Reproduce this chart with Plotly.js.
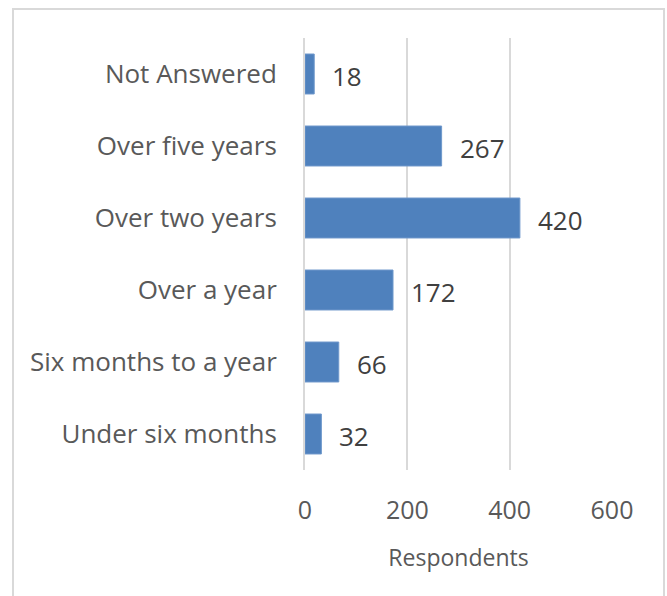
<!DOCTYPE html>
<html>
<head>
<meta charset="utf-8">
<script src="https://cdn.plot.ly/plotly-3.0.1.min.js"></script>
<style>
  html, body { margin: 0; padding: 0; background: #fff; }
  #wrap { position: relative; width: 667px; height: 596px; }
  #chart { width: 667px; height: 596px; }
  #frame { position: absolute; left: 12px; top: 8px; width: 653px; height: 600px;
           border: 2px solid #d9d9d9; box-sizing: border-box; pointer-events: none; }
</style>
</head>
<body>
<div id="wrap">
  <div id="chart"></div>
  <div id="frame"></div>
</div>
<script>
const categories = ["Under six months", "Six months to a year", "Over a year", "Over two years", "Over five years", "Not Answered"];
const respondents = [32, 66, 172, 420, 267, 18];
const xTickValues = [0, 200, 400, 600];
const xAxisTitle = "Respondents";

const FONT = "Open Sans, Liberation Sans, sans-serif";

const trace = {
  type: "bar",
  orientation: "h",
  x: respondents,
  y: categories,
  marker: { color: "#4F81BD", line: { color: "#6F98CB", width: 1 } },
  hoverinfo: "x+y"
};

const annotations = categories.map((c, i) => ({
  x: respondents[i],
  y: c,
  xref: "x",
  yref: "y",
  text: String(respondents[i]),
  showarrow: false,
  xanchor: "left",
  yanchor: "middle",
  xshift: 16,
  yshift: -2,
  font: { family: FONT, size: 26, color: "#404040" }
}));

const layout = {
  width: 667,
  height: 596,
  margin: { l: 305, r: 55, t: 38, b: 126, pad: 0 },
  paper_bgcolor: "#ffffff",
  plot_bgcolor: "#ffffff",
  showlegend: false,
  bargap: 0.445,
  font: { family: FONT, color: "#595959" },
  xaxis: {
    range: [0, 600],
    tickvals: xTickValues,
    ticktext: xTickValues.map(String),
    showgrid: true,
    gridcolor: "#d9d9d9",
    gridwidth: 2,
    zeroline: false,
    showline: false,
    ticks: "",
    ticklabelstandoff: 23,
    tickfont: { family: FONT, size: 25, color: "#595959" },
    title: { text: xAxisTitle, font: { family: FONT, size: 23, color: "#595959" }, standoff: 24 },
    fixedrange: true
  },
  yaxis: {
    type: "category",
    categoryorder: "array",
    categoryarray: categories,
    showgrid: false,
    zeroline: false,
    showline: true,
    linecolor: "#d9d9d9",
    linewidth: 2,
    ticks: "",
    ticklabelstandoff: 21,
    tickfont: { family: FONT, size: 26, color: "#595959" },
    fixedrange: true
  },
  annotations: annotations
};

Plotly.newPlot("chart", [trace], layout, { displayModeBar: false, staticPlot: true });
</script>
</body>
</html>
